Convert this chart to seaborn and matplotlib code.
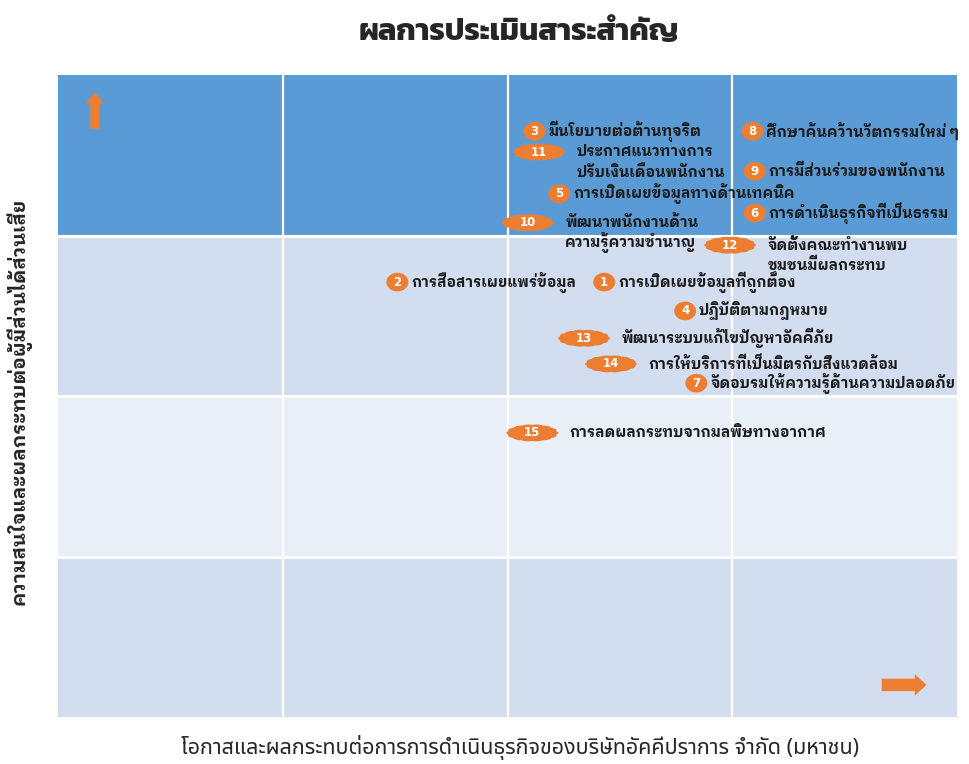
import matplotlib
matplotlib.use("Agg")
import matplotlib.pyplot as plt
import numpy as np
import pandas as pd
import seaborn as sns
from matplotlib.path import Path

sns.set_theme(style="white")
plt.rcParams["font.family"] = ["IBM Plex Sans Thai Looped", "DejaVu Sans"]

# materiality issues: id, label, x = business impact, y = stakeholder interest
issue_ids = [3, 11, 5, 10, 8, 9, 6, 12, 2, 1, 4, 13, 14, 7, 15]
issue_labels = [
    "มีนโยบายต่อต้านทุจริต",
    "ประกาศแนวทางการ\nปรับเงินเดือนพนักงาน",
    "การเปิดเผยข้อมูลทางด้านเทคนิค",
    "พัฒนาพนักงานด้าน\nความรู้ความชำนาญ",
    "ศึกษาค้นคว้านวัตกรรมใหม่ ๆ",
    "การมีส่วนร่วมของพนักงาน",
    "การดำเนินธุรกิจที่เป็นธรรม",
    "จัดตั้งคณะทำงานพบ\nชุมชนมีผลกระทบ",
    "การสื่อสารเผยแพร่ข้อมูล",
    "การเปิดเผยข้อมูลที่ถูกต้อง",
    "ปฏิบัติตามกฎหมาย",
    "พัฒนาระบบแก้ไขปัญหาอัคคีภัย",
    "การให้บริการที่เป็นมิตรกับสิ่งแวดล้อม",
    "จัดอบรมให้ความรู้ด้านความปลอดภัย",
    "การลดผลกระทบจากมลพิษทางอากาศ",
]
impact = [2.12, 2.14, 2.23, 2.09, 3.09, 3.10, 3.10, 2.99, 1.51, 2.43, 2.79, 2.34, 2.46, 2.84, 2.11]
interest = [3.65, 3.52, 3.26, 3.08, 3.65, 3.40, 3.14, 2.94, 2.71, 2.71, 2.53, 2.36, 2.20, 2.08, 1.77]

row_colors = ["#D2DEEF", "#E9EFF7", "#D2DEEF", "#5B9BD5"]  # bottom to top
orange = "#ED7D31"

df = pd.DataFrame({"id": issue_ids, "label": issue_labels, "x": impact, "y": interest})
df["wide"] = df["id"] >= 10


def ellipse_marker(w, h, bumps=0, amp=0.0, n=160):
    t = np.linspace(0, 2 * np.pi, n, endpoint=False)
    r = 1 + amp * np.abs(np.cos(bumps * t / 2))
    verts = np.column_stack([w * r * np.cos(t), h * r * np.sin(t)])
    verts = np.vstack([verts, verts[:1]])
    codes = [Path.MOVETO] + [Path.LINETO] * (n - 1) + [Path.CLOSEPOLY]
    return Path(verts, codes)


small_marker = ellipse_marker(1.0, 0.85)
wide_marker = ellipse_marker(1.0, 0.33, bumps=14, amp=0.06)

fig = plt.figure(figsize=(9.69, 7.64), dpi=100)
ax = fig.add_axes([0.0599, 0.0615, 0.9278, 0.8403])
ax.set_xlim(0, 4)
ax.set_ylim(0, 4)

for i, c in enumerate(row_colors):
    ax.axhspan(i, i + 1, color=c, zorder=0, lw=0)
for v in [1, 2, 3]:
    ax.axvline(v, color="white", lw=1.6, zorder=1)
    ax.axhline(v, color="white", lw=2.2, zorder=1)

sns.scatterplot(data=df[~df["wide"]], x="x", y="y", marker=small_marker, s=250,
                color=orange, edgecolor="none", ax=ax, zorder=3, legend=False)
sns.scatterplot(data=df[df["wide"]], x="x", y="y", marker=wide_marker, s=1400,
                color=orange, edgecolor="none", ax=ax, zorder=3, legend=False)

for _, r in df.iterrows():
    ax.text(r["x"], r["y"], str(r["id"]), ha="center", va="center", color="white",
            fontsize=8.5, fontweight="bold", family=["DejaVu Sans"], zorder=4)
    dx = 27 if r["wide"] else 10
    for k, line in enumerate(r["label"].split("\n")):
        ax.annotate(line, (r["x"], r["y"]), xytext=(dx, -k * 14.5), textcoords="offset points",
                    ha="left", va="center", fontsize=10.5, fontweight="bold", color="#1a1a1a",
                    zorder=4, annotation_clip=False)

# direction arrows
ax.annotate("", xy=(0.041, 0.978), xytext=(0.041, 0.912), xycoords="axes fraction",
            arrowprops=dict(arrowstyle="simple,head_width=1.1,head_length=0.7,tail_width=0.55",
                            color=orange, lw=0))
ax.annotate("", xy=(0.969, 0.05), xytext=(0.913, 0.05), xycoords="axes fraction",
            arrowprops=dict(arrowstyle="simple,head_width=1.3,head_length=0.7,tail_width=0.75",
                            color=orange, lw=0))

ax.set_xticks([])
ax.set_yticks([])
ax.set_xlabel("")
ax.set_ylabel("")
for s in ax.spines.values():
    s.set_visible(False)

fig.text(0.535, 0.958, "ผลการประเมินสาระสำคัญ", ha="center", va="center", fontsize=22,
         fontweight="bold", family=["Kanit", "DejaVu Sans"])
fig.text(0.537, 0.022, "โอกาสและผลกระทบต่อการการดำเนินธุรกิจของบริษัทอัคคีปราการ จำกัด (มหาชน)",
         ha="center", va="center", fontsize=15.5, family=["Noto Sans Thai", "DejaVu Sans"])
fig.text(0.019, 0.474, "ความสนใจและผลกระทบต่อผู้มีส่วนได้ส่วนเสีย", ha="center", va="center",
         rotation=90, fontsize=14, fontweight="bold", family=["IBM Plex Sans Thai Looped", "DejaVu Sans"])

fig.savefig("out.png", dpi=100)
